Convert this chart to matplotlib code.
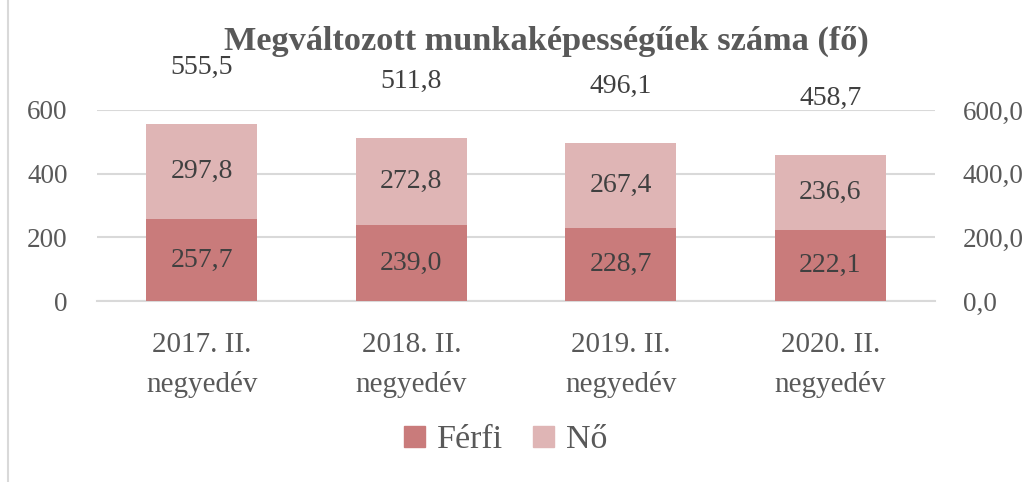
import matplotlib
import matplotlib.pyplot as plt
from matplotlib.lines import Line2D
from matplotlib.patches import Patch

# data
categories = ["2017. II.\nnegyedév", "2018. II.\nnegyedév",
              "2019. II.\nnegyedév", "2020. II.\nnegyedév"]
ferfi = [257.7, 239.0, 228.7, 222.1]
no = [297.8, 272.8, 267.4, 236.6]
osszesen = [555.5, 511.8, 496.1, 458.7]

c_ferfi = "#C97B7B"
c_no = "#DFB5B5"
c_axis = "#595959"
c_lab = "#404040"
grid_c = "#D9D9D9"

plt.rcParams["font.family"] = ["Liberation Serif", "DejaVu Serif"]

fig = plt.figure(figsize=(10.3, 4.82), dpi=100, facecolor="w")
ax = fig.add_axes([0.0942, 0.3755, 0.8136, 0.3963])
ax2 = ax.twinx()

x = range(len(categories))
ax.bar(x, ferfi, width=0.53, color=c_ferfi, zorder=3)
ax.bar(x, no, width=0.53, bottom=ferfi, color=c_no, zorder=3)

for i in x:
    ax.text(i, ferfi[i] / 2, f"{ferfi[i]:.1f}".replace(".", ","),
            ha="center", va="center", fontsize=20, color=c_lab, zorder=4)
    ax.text(i, ferfi[i] + no[i] / 2, f"{no[i]:.1f}".replace(".", ","),
            ha="center", va="center", fontsize=20, color=c_lab, zorder=4)
    ax.annotate(f"{osszesen[i]:.1f}".replace(".", ","), (i, osszesen[i]),
                xytext=(0, 41), textcoords="offset points",
                ha="center", va="center", fontsize=20, color=c_lab,
                annotation_clip=False)

ax.set_xlim(-0.5, 3.5)
ax.set_ylim(0, 600)
ax.set_yticks([0, 200, 400, 600])
ax.set_xticks(list(x))
ax.set_xticklabels(categories, linespacing=1.65)
ax.yaxis.grid(True, color=grid_c, lw=1.5, zorder=0)
ax.tick_params(axis="both", length=0, labelsize=19.5, colors=c_axis)
ax.tick_params(axis="x", pad=22, labelsize=21)
ax.tick_params(axis="y", pad=21)
for ax_ in (ax, ax2):
    for s in ax_.spines.values():
        s.set_visible(False)
ax.spines["bottom"].set_visible(True)
ax.spines["bottom"].set_color(grid_c)
ax.spines["bottom"].set_linewidth(1.5)

ax2.set_ylim(0, 600)
ax2.set_yticks([0, 200, 400, 600])
ax2.set_yticklabels(["0,0", "200,0", "400,0", "600,0"])
ax2.tick_params(axis="y", length=0, labelsize=19.5, colors=c_axis, pad=20)

fig.text(0.530, 0.915, "Megváltozott munkaképességűek száma (fő)",
         ha="center", va="center", fontsize=24.7, fontweight="bold", color=c_axis)

handles = [Patch(color=c_ferfi, label="Férfi"), Patch(color=c_no, label="Nő")]
fig.legend(handles=handles, loc="center", bbox_to_anchor=(0.491, 0.087), ncol=2,
           frameon=False, fontsize=24.5, labelcolor=c_axis, handlelength=0.6,
           handleheight=0.6, handletextpad=0.35, columnspacing=0.9)

fig.add_artist(Line2D([0.008, 0.008], [0, 1], color=grid_c, lw=1.5))

plt.savefig("out.png", dpi=100, facecolor="w")
